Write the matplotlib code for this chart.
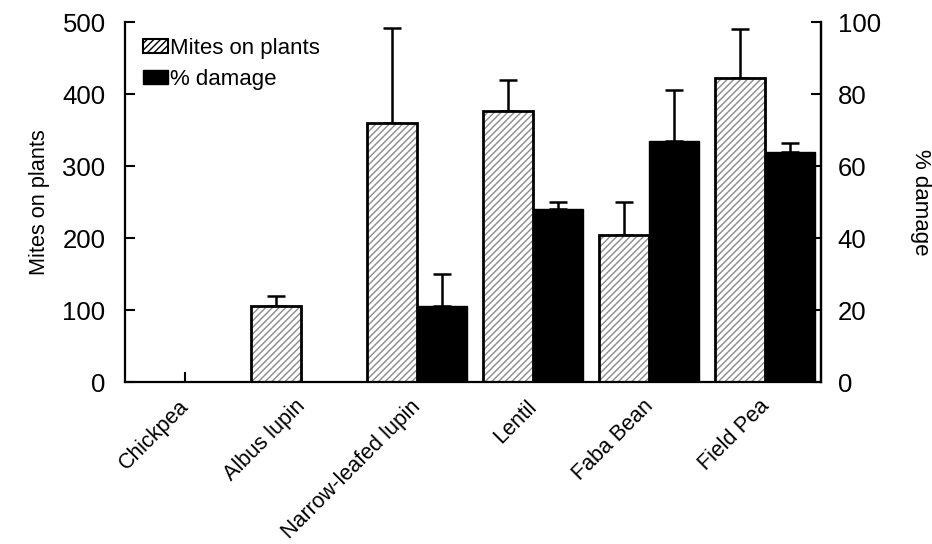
import numpy as np
import matplotlib
matplotlib.use("Agg")
import matplotlib.pyplot as plt
from matplotlib.patches import Patch
from matplotlib.transforms import ScaledTranslation, blended_transform_factory

plt.rcParams['font.family'] = ['Liberation Sans', 'DejaVu Sans']
plt.rcParams['hatch.linewidth'] = 1.0

categories = ["Chickpea", "Albus lupin", "Narrow-leafed lupin", "Lentil", "Faba Bean", "Field Pea"]
mites = [0, 106, 360, 376, 204, 422]
mites_err = [np.nan, 14, 132, 43, 46, 68]
damage = [0, 0, 21, 48, 67, 64]
damage_err = [np.nan, np.nan, 9, 2, 14, 2.5]
left_ticks = [0, 100, 200, 300, 400, 500]
right_ticks = [0, 20, 40, 60, 80, 100]

fig = plt.figure(figsize=(9.32, 5.44), dpi=100)
ax1 = fig.add_axes([125/932, 1-382/544, 696/932, 360/544])
ax2 = ax1.twinx()

x = np.arange(len(categories))
w = 0.43
HATCH = '/////'
HCOL = '#8c8c8c'

# hatched bars (mites)
ax1.bar(x - w/2, mites, w, color='white', edgecolor=HCOL, hatch=HATCH, linewidth=0, zorder=2)
ax1.bar(x - w/2, mites, w, fill=False, edgecolor='black', linewidth=2, zorder=3)
me = np.array(mites_err, dtype=float)
ax1.errorbar(x - w/2, mites, yerr=[np.zeros_like(me), me], fmt='none', ecolor='black',
             elinewidth=1.8, capsize=6.5, capthick=1.8, zorder=1)

# black bars (damage)
de = np.array(damage_err, dtype=float)
ax2.errorbar(x + w/2, damage, yerr=[np.zeros_like(de), de], fmt='none', ecolor='black',
             elinewidth=1.8, capsize=6.5, capthick=1.8, zorder=1)
ax2.bar(x + w/2, damage, w, color='black', edgecolor='black', linewidth=1, zorder=2)

ax1.set_xlim(-0.52, 5.48)
ax1.set_ylim(0, 500)
ax2.set_ylim(0, 100)
ax1.set_yticks(left_ticks)
ax2.set_yticks(right_ticks)
ax1.set_xticks(x)
ax1.set_xticklabels([])

trans = blended_transform_factory(ax1.transData, ax1.transAxes) + \
    ScaledTranslation(-7/100, -14/100, fig.dpi_scale_trans)
for xi, lab in zip(x, categories):
    ax1.text(xi, 0, lab, transform=trans, rotation=45, ha='right', va='top',
             rotation_mode='anchor', fontsize=15.5, clip_on=False)

for ax in (ax1, ax2):
    ax.spines['top'].set_visible(False)
    for s in ax.spines.values():
        s.set_linewidth(1.6)
ax2.spines['left'].set_visible(False)
ax2.spines['bottom'].set_visible(False)

ax1.tick_params(axis='y', direction='in', length=7, width=1.5, labelsize=18.5, pad=14)
ax1.tick_params(axis='x', direction='in', length=7, width=1.5)
ax2.tick_params(axis='y', direction='in', length=7, width=1.5, labelsize=18.5, pad=12)

ax1.set_ylabel("Mites on plants", fontsize=15.7, labelpad=9)
ax2.set_ylabel("% damage", fontsize=16, rotation=270, labelpad=36)

handles = [Patch(facecolor='white', edgecolor='black', hatch=HATCH, linewidth=1.5),
           Patch(facecolor='black', edgecolor='black')]
leg = ax2.legend(handles, ["Mites on plants", "% damage"], loc='upper left',
                 bbox_to_anchor=(0.026, 0.955), frameon=False, fontsize=16,
                 handlelength=1.1, handleheight=0.6, handletextpad=0.1,
                 borderaxespad=0, borderpad=0, labelspacing=0.45)

fig.savefig("out.png", dpi=100)
